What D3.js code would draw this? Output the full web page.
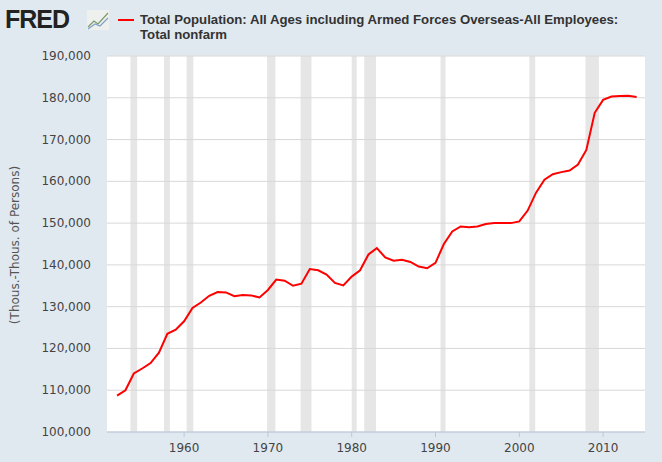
<!DOCTYPE html>
<html><head><meta charset="utf-8">
<script src="https://cdn.jsdelivr.net/npm/d3@7"></script>
<style>body{margin:0;background:#e1e9f0;font-family:"DejaVu Sans",Verdana,sans-serif}</style>
</head><body>
<svg id="chart" width="662" height="462"></svg>
<script>
// Data (thousands of persons)
const years = d3.range(1952, 2015);
const values = [108.7,110,114,115.2,116.5,119,123.5,124.5,126.5,129.7,131,132.6,133.5,133.4,132.5,132.8,132.7,132.2,134,136.5,136.2,135,135.5,139,138.7,137.7,135.7,135.1,137.2,138.7,142.5,144,141.8,141,141.2,140.7,139.6,139.2,140.5,145,148,149.2,149,149.2,149.8,150,150,150,150.4,153,157.3,160.4,161.7,162.2,162.6,164,167.5,176.4,179.5,180.3,180.4,180.5,180.2];
const recessions = [[1953.6,1954.4],[1957.6,1958.3],[1960.3,1961.1],[1969.9,1970.9],[1973.9,1975.2],[1980.0,1980.6],[1981.5,1982.9],[1990.6,1991.2],[2001.2,2001.9],[2007.9,2009.5]];
const yTicks = d3.range(100000, 190001, 10000);
const xTicks = [1960,1970,1980,1990,2000,2010];

const svg = d3.select("#chart");
const m = {left:107, right:645, top:56, bottom:432};
const x = d3.scaleLinear().domain([1950.8, 2015]).range([m.left, m.right]);
const y = d3.scaleLinear().domain([100000, 190000]).range([m.bottom, m.top]);

svg.append("rect").attr("x", m.left).attr("y", m.top)
    .attr("width", m.right - m.left).attr("height", m.bottom - m.top).attr("fill", "#fff");

svg.selectAll("rect.rec").data(recessions).join("rect").attr("class", "rec")
    .attr("x", d => x(d[0])).attr("width", d => x(d[1]) - x(d[0]))
    .attr("y", m.top).attr("height", m.bottom - m.top).attr("fill", "#e6e6e6");

svg.selectAll("line.grid").data(yTicks).join("line").attr("class", "grid")
    .attr("x1", m.left).attr("x2", m.right).attr("y1", d => y(d)).attr("y2", d => y(d))
    .attr("stroke", "#d8d8d8");

svg.selectAll("text.yt").data(yTicks).join("text").attr("class", "yt")
    .attr("x", 91).attr("y", d => y(d) + 4).attr("text-anchor", "end")
    .attr("font-size", 12).attr("fill", "#444").text(d => d3.format(",")(d));

svg.append("line").attr("x1", m.left).attr("x2", m.right).attr("y1", m.bottom).attr("y2", m.bottom)
    .attr("stroke", "#b8c8dc");
svg.selectAll("line.xt").data(xTicks).join("line").attr("class", "xt")
    .attr("x1", d => x(d)).attr("x2", d => x(d)).attr("y1", m.bottom).attr("y2", m.bottom + 5)
    .attr("stroke", "#b8c8dc");
svg.selectAll("text.xl").data(xTicks).join("text").attr("class", "xl")
    .attr("x", d => x(d)).attr("y", 452).attr("text-anchor", "middle")
    .attr("font-size", 12).attr("fill", "#444").text(d => d);

svg.append("text").attr("transform", "translate(19,245) rotate(-90)").attr("text-anchor", "middle")
    .attr("font-size", 12).attr("fill", "#555").text("(Thous.-Thous. of Persons)");

const line = d3.line().x((d, i) => x(years[i])).y(d => y(d * 1000));
svg.append("path").datum(values).attr("d", line).attr("fill", "none")
    .attr("stroke", "#ff0000").attr("stroke-width", 2);

// Header
svg.append("text").attr("x", 5).attr("y", 28).attr("font-family", "Liberation Sans, Arial")
    .attr("font-weight", "bold").attr("font-size", 25).attr("fill", "#222")
    .attr("letter-spacing", -1).text("FRED");
svg.append("rect").attr("x", 87).attr("y", 10).attr("width", 22).attr("height", 20).attr("fill", "#eef0ee");
svg.append("polyline").attr("points", "88,27 94,21 98,24 108,13").attr("fill", "none").attr("stroke", "#7a9a6a").attr("stroke-width", 1.2);
svg.append("polyline").attr("points", "88,29 95,24 100,26 108,18").attr("fill", "none").attr("stroke", "#7fa0c8").attr("stroke-width", 1.2);
svg.append("line").attr("x1", 118).attr("x2", 134).attr("y1", 20).attr("y2", 20)
    .attr("stroke", "#ff0000").attr("stroke-width", 2);
const title = svg.append("text").attr("font-family", "Liberation Sans, Arial")
    .attr("font-weight", "bold").attr("font-size", 13.2).attr("fill", "#333");
title.append("tspan").attr("x", 140).attr("y", 24).text("Total Population: All Ages including Armed Forces Overseas-All Employees:");
title.append("tspan").attr("x", 140).attr("y", 39).text("Total nonfarm");
</script>
</body></html>
